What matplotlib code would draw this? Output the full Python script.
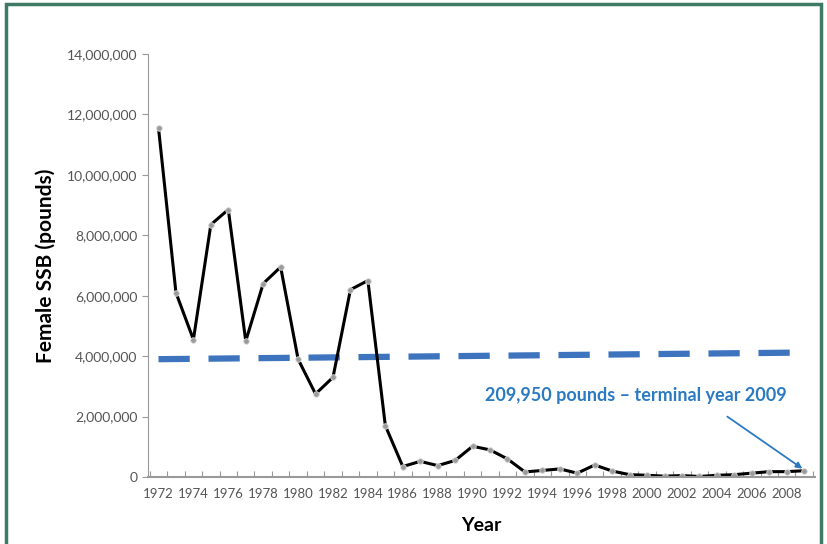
import matplotlib
matplotlib.use("Agg")
import matplotlib.pyplot as plt
import matplotlib.patches as patches
from matplotlib.ticker import FuncFormatter

years = list(range(1972, 2010))
ssb = [11550000, 6100000, 4550000, 8350000, 8850000, 4500000, 6400000, 6950000,
       3900000, 2750000, 3300000, 6200000, 6500000, 1700000, 350000, 520000,
       380000, 550000, 1020000, 900000, 600000, 170000, 220000, 270000,
       130000, 400000, 200000, 80000, 60000, 30000, 50000, 20000,
       60000, 80000, 130000, 180000, 180000, 209950]
ref_years = [1972, 2009]
ref_vals = [3900000, 4120000]
note = "209,950 pounds \u2013 terminal year 2009"

plt.rcParams['font.family'] = ['Lato', 'DejaVu Sans']

fig = plt.figure(figsize=(8.27, 5.44), dpi=100)
ax = fig.add_axes([0.179, 0.123, 0.806, 0.778])

# green frame round the chart
fig.patches.append(patches.Rectangle((0.007, -0.01), 0.986, 1.003, transform=fig.transFigure,
                                     fill=False, edgecolor="#3f7a64", linewidth=2.5))

ax.plot(ref_years, ref_vals, color="#3d74bd", linewidth=4.5, dashes=(5, 3))
ax.plot(years, ssb, color="black", linewidth=2.2, marker="o", markersize=4,
        markerfacecolor="#9a9a9a", markeredgecolor="#d8d8d8", markeredgewidth=0.6)

ax.text(2008.0, 2700000, note, color="#2b7ac2", fontsize=13, fontweight="bold",
        ha="right", va="center")
ax.annotate("", xy=(2008.9, 280000), xytext=(2004.6, 2000000),
            arrowprops=dict(arrowstyle="-|>", color="#2b7ac2", lw=1.3, mutation_scale=9,
                            shrinkA=0, shrinkB=0))

ax.set_xlim(1971.4, 2009.6)
ax.set_ylim(0, 14000000)
ax.set_yticks(range(0, 14000001, 2000000))
ax.yaxis.set_major_formatter(FuncFormatter(lambda v, p: f"{int(v):,}"))
ax.set_xticks([y + 0.5 for y in range(1971, 2010)])
ax.set_xticklabels([])
ax.set_xticks(list(range(1972, 2009, 2)), minor=True)
ax.set_xticklabels([str(y) for y in range(1972, 2009, 2)], minor=True)
ax.tick_params(axis="x", which="major", length=4, color="#999999", direction="in")
ax.tick_params(axis="x", which="minor", length=0, labelsize=9.5, labelcolor="#555555", pad=8)
ax.tick_params(axis="y", length=4, color="#999999", direction="out", labelsize=10,
               labelcolor="#555555")

for s in ["top", "right"]:
    ax.spines[s].set_visible(False)
ax.spines["left"].set_color("#999999")
ax.spines["bottom"].set_color("#999999")
ax.spines["bottom"].set_linewidth(1.5)

ax.set_ylabel("Female SSB (pounds)", fontsize=15, fontweight="bold", labelpad=8)
ax.set_xlabel("Year", fontsize=14, fontweight="bold", labelpad=12)

fig.savefig("out.png", dpi=100)
